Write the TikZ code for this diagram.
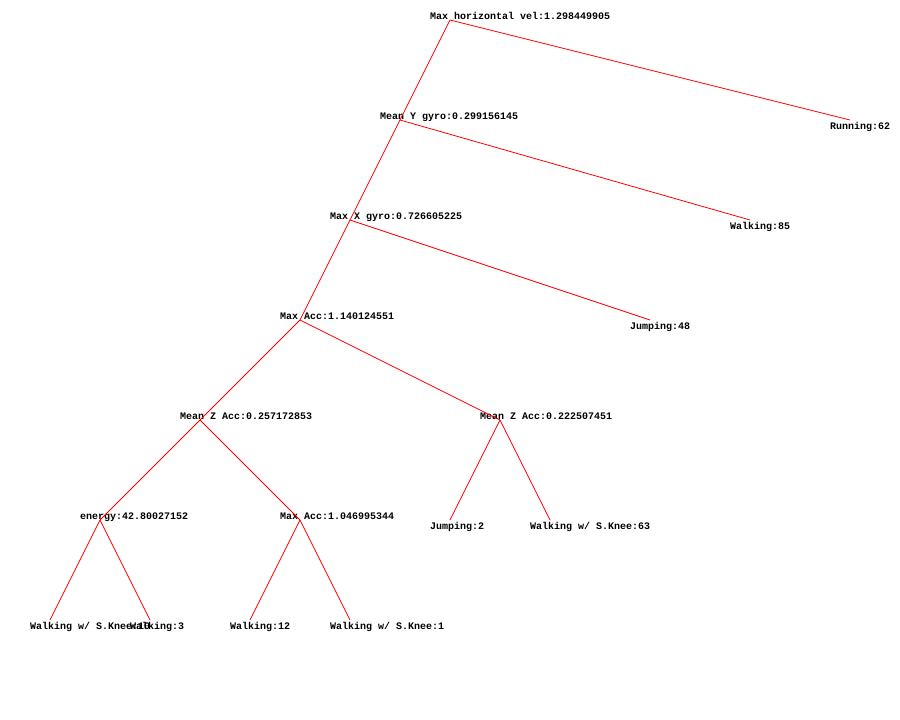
\documentclass[tikz,border=0pt]{standalone}
\usepackage{fontspec}
\newfontfamily\treefont{Liberation Mono}
\usepackage{tikz}

\begin{document}
\begin{tikzpicture}[x=1pt,y=-1pt,
    edge/.style={red,line width=0.8pt},
    split/.style={font=\treefont\bfseries\fontsize{10}{10}\selectfont,anchor=base west,inner sep=0pt},
    leaf/.style={split}]
    \useasboundingbox (0,0) rectangle (900,720);

    \coordinate (root)   at (450,20);
    \coordinate (meany)  at (400,120);
    \coordinate (maxx)   at (350,220);
    \coordinate (maxacc) at (300,320);
    \coordinate (meanzl) at (200,420);
    \coordinate (meanzr) at (500,420);
    \coordinate (energy) at (100,520);
    \coordinate (maxacb) at (300,520);

    \coordinate (run)    at (850,120);
    \coordinate (walka)  at (750,220);
    \coordinate (jumpa)  at (650,320);
    \coordinate (jumpb)  at (450,520);
    \coordinate (kneea)  at (550,520);
    \coordinate (kneeb)  at (50,620);
    \coordinate (walkb)  at (150,620);
    \coordinate (walkc)  at (250,620);
    \coordinate (kneec)  at (350,620);

    \node[split] (rootL)   at (430,19.5)  {Max horizontal vel:1.298449905};
    \node[split] (meanyL)  at (380,119.5) {Mean Y gyro:0.299156145};
    \node[split] (maxxL)   at (330,219.5) {Max X gyro:0.726605225};
    \node[split] (maxaccL) at (280,319.5) {Max Acc:1.140124551};
    \node[split] (meanzlL) at (180,419.5) {Mean Z Acc:0.257172853};
    \node[split] (meanzrL) at (480,419.5) {Mean Z Acc:0.222507451};
    \node[split] (energyL) at (80,519.5)  {energy:42.80027152};
    \node[split] (maxacbL) at (280,519.5) {Max Acc:1.046995344};

    \node[leaf] (runL)   at (830,129.5) {Running:62};
    \node[leaf] (walkaL) at (730,229.5) {Walking:85};
    \node[leaf] (jumpaL) at (630,329.5) {Jumping:48};
    \node[leaf] (jumpbL) at (430,529.5) {Jumping:2};
    \node[leaf] (kneeaL) at (530,529.5) {Walking w/ S.Knee:63};
    \node[leaf] (kneebL) at (30,629.5)  {Walking w/ S.Knee:10};
    \node[leaf] (walkbL) at (130,629.5) {Walking:3};
    \node[leaf] (walkcL) at (230,629.5) {Walking:12};
    \node[leaf] (kneecL) at (330,629.5) {Walking w/ S.Knee:1};

    \draw[edge] (root) -- (meany);
    \draw[edge] (root) -- (run);
    \draw[edge] (meany) -- (maxx);
    \draw[edge] (meany) -- (walka);
    \draw[edge] (maxx) -- (maxacc);
    \draw[edge] (maxx) -- (jumpa);
    \draw[edge] (maxacc) -- (meanzl);
    \draw[edge] (maxacc) -- (meanzr);
    \draw[edge] (meanzl) -- (energy);
    \draw[edge] (meanzl) -- (maxacb);
    \draw[edge] (meanzr) -- (jumpb);
    \draw[edge] (meanzr) -- (kneea);
    \draw[edge] (energy) -- (kneeb);
    \draw[edge] (energy) -- (walkb);
    \draw[edge] (maxacb) -- (walkc);
    \draw[edge] (maxacb) -- (kneec);
\end{tikzpicture}
\end{document}
